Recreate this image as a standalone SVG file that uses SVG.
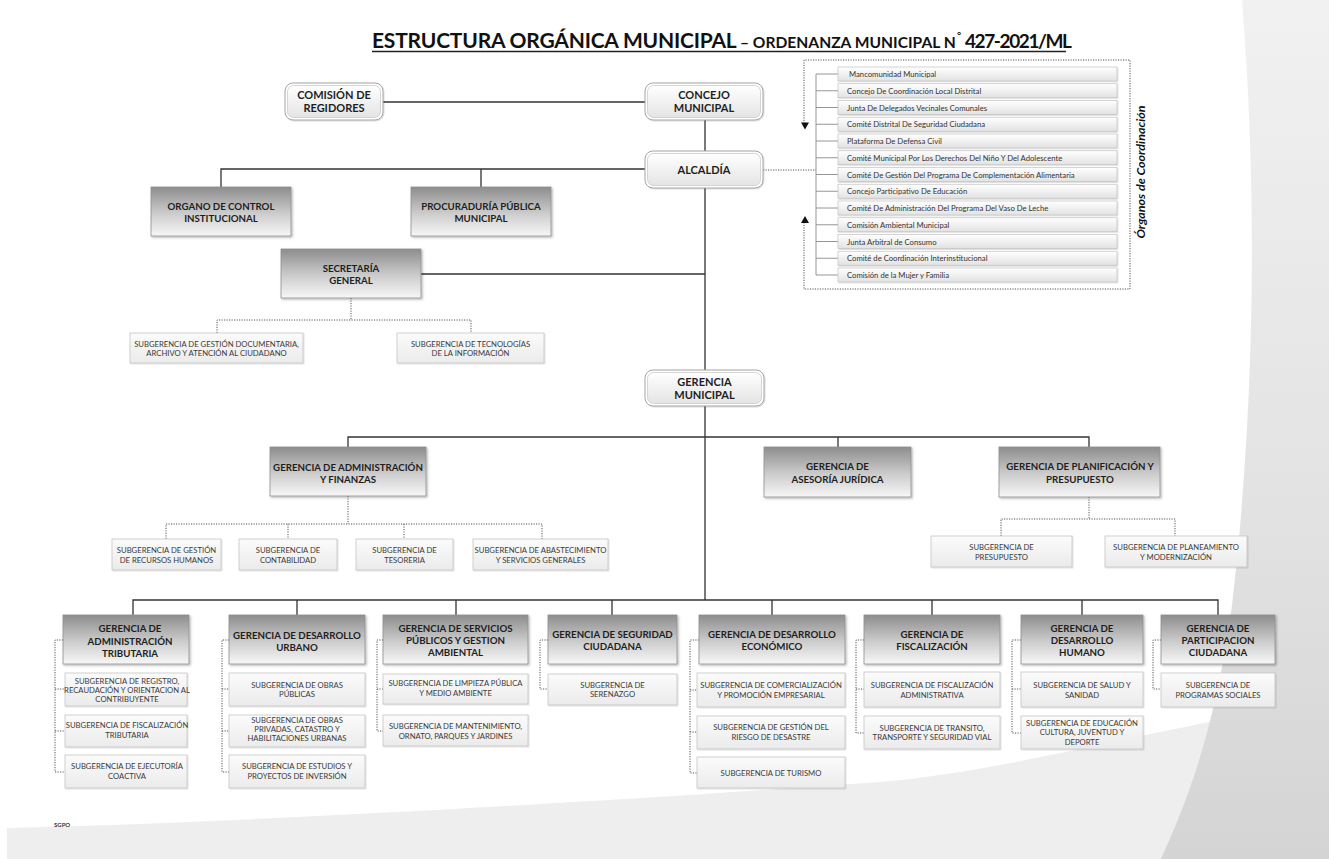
<svg xmlns="http://www.w3.org/2000/svg" width="1329" height="859" viewBox="0 0 1329 859">
<style>
text{font-family:Lato,"Liberation Sans",sans-serif}
.ln{stroke:#333;stroke-width:1.3;fill:none}
.dt{stroke:#555;stroke-width:1;fill:none;stroke-dasharray:1.2 1.3}
.br{stroke:#8a8a8a;stroke-width:0.9;fill:none}
.g{fill:url(#gG);stroke:#8f8f8f;stroke-width:0.8;filter:url(#sh)}
.s{fill:url(#gS);stroke:#c6c6c6;stroke-width:0.8;filter:url(#sh2)}
.ro{fill:#fff;stroke:#a4a4a4;stroke-width:1;filter:url(#sh2)}
.ri{fill:url(#gR);stroke:#cacaca;stroke-width:0.8}
.c{fill:url(#gC);stroke:#c2c2c2;stroke-width:0.7;filter:url(#sh2)}
.tg{font-weight:700;font-size:9.7px;text-anchor:middle;fill:#1e1e1e}
.tr{font-weight:700;font-size:11px;text-anchor:middle;fill:#1e1e1e}
.ts{font-size:7.7px;text-anchor:middle;fill:#3a3a3a}
.tc{font-size:7.7px;fill:#333}
</style>
<defs>
<linearGradient id="gG" x1="0" y1="0" x2="0" y2="1"><stop offset="0" stop-color="#8d8d8d"/><stop offset="0.55" stop-color="#cdcdcd"/><stop offset="1" stop-color="#f7f7f7"/></linearGradient>
<linearGradient id="gS" x1="0" y1="0" x2="0" y2="1"><stop offset="0" stop-color="#fbfbfb"/><stop offset="1" stop-color="#ebebeb"/></linearGradient>
<linearGradient id="gR" x1="0" y1="0" x2="0" y2="1"><stop offset="0" stop-color="#ffffff"/><stop offset="1" stop-color="#e4e4e4"/></linearGradient>
<linearGradient id="gC" x1="0" y1="0" x2="0" y2="1"><stop offset="0" stop-color="#ffffff"/><stop offset="1" stop-color="#e2e2e2"/></linearGradient>
<linearGradient id="gBg" x1="0" y1="0" x2="0" y2="1"><stop offset="0" stop-color="#f1f1f1"/><stop offset="0.6" stop-color="#e2e2e2"/><stop offset="1" stop-color="#d4d4d4"/></linearGradient>
<filter id="sh" x="-10%" y="-10%" width="125%" height="140%"><feDropShadow dx="1.2" dy="1.2" stdDeviation="0.8" flood-color="#000" flood-opacity="0.3"/></filter>
<filter id="sh2" x="-10%" y="-10%" width="125%" height="140%"><feDropShadow dx="0.8" dy="0.8" stdDeviation="0.6" flood-color="#000" flood-opacity="0.18"/></filter>
</defs>
<rect width="1329" height="859" fill="#fff"/>
<path d="M7,859 L7,828 C250,822 600,802 880,782 C1020,770 1150,727 1329,702 L1329,859 Z" fill="#eeeeee"/>
<path d="M1242,0 C1262,250 1248,470 1232,605 C1214,740 1182,812 1161,859 L1329,859 L1329,0 Z" fill="url(#gBg)"/>

<g id="title">
<text y="48" font-weight="700" fill="#111"><tspan x="372" font-size="21" letter-spacing="-0.2">ESTRUCTURA ORGÁNICA MUNICIPAL</tspan><tspan x="740" font-size="15.6">– ORDENANZA MUNICIPAL N</tspan><tspan x="957" dy="-9" font-size="10">°</tspan><tspan x="965" dy="9" font-size="19" letter-spacing="-1.4">427-2021/ML</tspan></text>
<line x1="372" y1="51.5" x2="1066" y2="51.5" stroke="#222" stroke-width="1.4"/>
</g>

<g id="connectors">
<path class="ln" d="M383,102 H645 M705,120 V151 M705,188 V370 M705,406 V600 M221,187 V169 H645 M481,169 V187 M421,274 H705 M348,447 V437 H1089 V447 M838,437 V447 M133,615 V600 H1218 V615 M297,600 V615 M456,600 V615 M612,600 V615 M772,600 V615 M932,600 V615 M1082,600 V615"/>
<path class="dt" d="M763,170 H816 M351,298 V320 M217,333 V320 H471 V333 M348,496 V524 M166,539 V524 H542 V539 M288,524 V539 M404,524 V539 M1089,497 V519 M1001,536 V519 H1175 V536"/>
<path class="dt" d="M63,640 H55 V772 H65 M55,689 H65 M55,731 H65 M229,640 H222 V772 H229 M222,689 H229 M222,731 H229 M383,640 H377 V731 H383 M377,689 H383 M548,640 H540 V689 H548 M699,640 H690 V773 H697 M690,690 H697 M690,732 H697 M864,640 H856 V733 H864 M856,689 H864 M1021,640 H1012 V733 H1021 M1012,689 H1021 M1161,640 H1153 V689 H1161"/>
<path class="dt" d="M804,126 V60 H1130 V289 H804 V219"/>
<polygon points="801,122.5 809,122.5 805,129.5" fill="#111"/>
<polygon points="801,223 809,223 805,216" fill="#111"/>
<path class="br" d="M816,74 V275 M816,74 H838 M816,90.75 H838 M816,107.5 H838 M816,124.25 H838 M816,141 H838 M816,157.75 H838 M816,174.5 H838 M816,191.25 H838 M816,208 H838 M816,224.75 H838 M816,241.5 H838 M816,258.25 H838 M816,275 H838"/>
</g>

<g id="comision-regidores"><rect class="ro" x="285" y="83" width="98" height="37" rx="8"/><rect class="ri" x="287.5" y="85.5" width="93" height="32" rx="6"/><text class="tr"><tspan x="334" y="98.5">COMISIÓN DE</tspan><tspan x="334" y="111.5">REGIDORES</tspan></text></g>
<g id="concejo-municipal"><rect class="ro" x="645" y="83" width="118" height="37" rx="8"/><rect class="ri" x="647.5" y="85.5" width="113" height="32" rx="6"/><text class="tr"><tspan x="704" y="98.5">CONCEJO</tspan><tspan x="704" y="111.5">MUNICIPAL</tspan></text></g>
<g id="alcaldia"><rect class="ro" x="645" y="151" width="118" height="37" rx="8"/><rect class="ri" x="647.5" y="153.5" width="113" height="32" rx="6"/><text class="tr" x="704" y="173.5">ALCALDÍA</text></g>
<g id="gerencia-municipal"><rect class="ro" x="645" y="370" width="119" height="36" rx="8"/><rect class="ri" x="647.5" y="372.5" width="114" height="31" rx="6"/><text class="tr"><tspan x="704.5" y="386">GERENCIA</tspan><tspan x="704.5" y="398.5">MUNICIPAL</tspan></text></g>

<g id="organo-control"><rect class="g" x="151" y="187" width="140" height="49"/><text class="tg"><tspan x="221" y="209.5">ORGANO DE CONTROL</tspan><tspan x="221" y="221.5">INSTITUCIONAL</tspan></text></g>
<g id="procuraduria"><rect class="g" x="411" y="187" width="140" height="49"/><text class="tg"><tspan x="481" y="209.5">PROCURADURÍA PÚBLICA</tspan><tspan x="481" y="221.5">MUNICIPAL</tspan></text></g>
<g id="secretaria-general"><rect class="g" x="281" y="249" width="140" height="49"/><text class="tg"><tspan x="351" y="271.5">SECRETARÍA</tspan><tspan x="351" y="283.5">GENERAL</tspan></text></g>
<g id="sg-gestion-documentaria"><rect class="s" x="130" y="333" width="173" height="30"/><text class="ts"><tspan x="216.5" y="346.5">SUBGERENCIA DE GESTIÓN DOCUMENTARIA,</tspan><tspan x="216.5" y="355.5">ARCHIVO Y ATENCIÓN AL CIUDADANO</tspan></text></g>
<g id="sg-tecnologias"><rect class="s" x="397" y="333" width="147" height="30"/><text class="ts"><tspan x="470.5" y="346.5">SUBGERENCIA DE TECNOLOGÍAS</tspan><tspan x="470.5" y="355.5">DE LA INFORMACIÓN</tspan></text></g>

<g id="ger-admin-finanzas"><rect class="g" x="270" y="447" width="156" height="49"/><text class="tg"><tspan x="348" y="470.5">GERENCIA DE ADMINISTRACIÓN</tspan><tspan x="348" y="482.5">Y FINANZAS</tspan></text></g>
<g id="ger-asesoria"><rect class="g" x="764" y="447" width="147" height="50"/><text class="tg"><tspan x="837.5" y="470">GERENCIA DE</tspan><tspan x="837.5" y="482.5">ASESORÍA JURÍDICA</tspan></text></g>
<g id="ger-planificacion"><rect class="g" x="999" y="447" width="161" height="50"/><text class="tg"><tspan x="1080" y="470">GERENCIA DE PLANIFICACIÓN Y</tspan><tspan x="1080" y="482.5">PRESUPUESTO</tspan></text></g>
<g id="sg-rrhh"><rect class="s" x="112" y="539" width="109" height="31"/><text class="ts"><tspan x="166.5" y="552.5">SUBGERENCIA DE GESTIÓN</tspan><tspan x="166.5" y="562.5">DE RECURSOS HUMANOS</tspan></text></g>
<g id="sg-contabilidad"><rect class="s" x="239" y="539" width="98" height="31"/><text class="ts"><tspan x="288" y="552.5">SUBGERENCIA DE</tspan><tspan x="288" y="562.5">CONTABILIDAD</tspan></text></g>
<g id="sg-tesoreria"><rect class="s" x="356" y="539" width="97" height="31"/><text class="ts"><tspan x="404.5" y="552.5">SUBGERENCIA DE</tspan><tspan x="404.5" y="562.5">TESORERIA</tspan></text></g>
<g id="sg-abastecimiento"><rect class="s" x="473" y="539" width="135" height="31"/><text class="ts"><tspan x="540.5" y="552.5">SUBGERENCIA DE ABASTECIMIENTO</tspan><tspan x="540.5" y="562.5">Y SERVICIOS GENERALES</tspan></text></g>
<g id="sg-presupuesto"><rect class="s" x="931" y="536" width="141" height="31"/><text class="ts"><tspan x="1001.5" y="549.5">SUBGERENCIA DE</tspan><tspan x="1001.5" y="559.5">PRESUPUESTO</tspan></text></g>
<g id="sg-planeamiento"><rect class="s" x="1105" y="536" width="142" height="31"/><text class="ts"><tspan x="1176" y="549.5">SUBGERENCIA DE PLANEAMIENTO</tspan><tspan x="1176" y="559.5">Y MODERNIZACIÓN</tspan></text></g>

<g id="ger-adm-tributaria"><rect class="g" x="63" y="615" width="126" height="49"/><text class="tg"><tspan x="130" y="632">GERENCIA DE</tspan><tspan x="130" y="644.5">ADMINISTRACIÓN</tspan><tspan x="130" y="657">TRIBUTARIA</tspan></text></g>
<g id="sg-registro"><rect class="s" x="65" y="673" width="122" height="33"/><text class="ts" font-size="6.8"><tspan x="127" y="683.5">SUBGERENCIA DE REGISTRO,</tspan><tspan x="127" y="692.5">RECAUDACIÓN Y ORIENTACION AL</tspan><tspan x="127" y="701.5">CONTRIBUYENTE</tspan></text></g>
<g id="sg-fisc-tributaria"><rect class="s" x="65" y="715" width="122" height="32"/><text class="ts" font-size="6.8"><tspan x="127" y="727.5">SUBGERENCIA DE FISCALIZACIÓN</tspan><tspan x="127" y="737.5">TRIBUTARIA</tspan></text></g>
<g id="sg-ejecutoria"><rect class="s" x="65" y="755" width="122" height="33"/><text class="ts" font-size="6.8"><tspan x="127" y="768.5">SUBGERENCIA DE EJECUTORÍA</tspan><tspan x="127" y="778.5">COACTIVA</tspan></text></g>

<g id="ger-desarrollo-urbano"><rect class="g" x="229" y="615" width="136" height="49"/><text class="tg"><tspan x="297" y="638.5">GERENCIA DE DESARROLLO</tspan><tspan x="297" y="650.5">URBANO</tspan></text></g>
<g id="sg-obras-publicas"><rect class="s" x="229" y="673" width="136" height="33"/><text class="ts"><tspan x="297" y="687.5">SUBGERENCIA DE OBRAS</tspan><tspan x="297" y="696.5">PÚBLICAS</tspan></text></g>
<g id="sg-obras-privadas"><rect class="s" x="229" y="715" width="136" height="32"/><text class="ts"><tspan x="297" y="722.5">SUBGERENCIA DE OBRAS</tspan><tspan x="297" y="731.5">PRIVADAS, CATASTRO Y</tspan><tspan x="297" y="740.5">HABILITACIONES URBANAS</tspan></text></g>
<g id="sg-estudios"><rect class="s" x="229" y="755" width="136" height="33"/><text class="ts"><tspan x="297" y="768.5">SUBGERENCIA DE ESTUDIOS Y</tspan><tspan x="297" y="778.5">PROYECTOS DE INVERSIÓN</tspan></text></g>

<g id="ger-servicios-publicos"><rect class="g" x="383" y="615" width="145" height="49"/><text class="tg"><tspan x="455.5" y="631.5">GERENCIA DE SERVICIOS</tspan><tspan x="455.5" y="643.5">PÚBLICOS Y GESTION</tspan><tspan x="455.5" y="655.5">AMBIENTAL</tspan></text></g>
<g id="sg-limpieza"><rect class="s" x="383" y="674" width="145" height="30"/><text class="ts"><tspan x="455.5" y="685.5">SUBGERENCIA DE LIMPIEZA PÚBLICA</tspan><tspan x="455.5" y="695.5">Y MEDIO AMBIENTE</tspan></text></g>
<g id="sg-mantenimiento"><rect class="s" x="383" y="715" width="145" height="31"/><text class="ts"><tspan x="455.5" y="728.5">SUBGERENCIA DE MANTENIMIENTO,</tspan><tspan x="455.5" y="738.5">ORNATO, PARQUES Y JARDINES</tspan></text></g>

<g id="ger-seguridad"><rect class="g" x="548" y="615" width="129" height="49"/><text class="tg"><tspan x="612.5" y="637.5">GERENCIA DE SEGURIDAD</tspan><tspan x="612.5" y="650">CIUDADANA</tspan></text></g>
<g id="sg-serenazgo"><rect class="s" x="548" y="674" width="129" height="31"/><text class="ts"><tspan x="612.5" y="687.5">SUBGERENCIA DE</tspan><tspan x="612.5" y="696.5">SERENAZGO</tspan></text></g>

<g id="ger-desarrollo-economico"><rect class="g" x="699" y="615" width="146" height="49"/><text class="tg"><tspan x="772" y="637.5">GERENCIA DE DESARROLLO</tspan><tspan x="772" y="650">ECONÓMICO</tspan></text></g>
<g id="sg-comercializacion"><rect class="s" x="697" y="673" width="148" height="34"/><text class="ts"><tspan x="771" y="687.5">SUBGERENCIA DE COMERCIALIZACIÓN</tspan><tspan x="771" y="697.5">Y PROMOCIÓN EMPRESARIAL</tspan></text></g>
<g id="sg-riesgo"><rect class="s" x="697" y="716" width="148" height="33"/><text class="ts"><tspan x="771" y="729.5">SUBGERENCIA DE GESTIÓN DEL</tspan><tspan x="771" y="739.5">RIESGO DE DESASTRE</tspan></text></g>
<g id="sg-turismo"><rect class="s" x="697" y="757" width="148" height="31"/><text class="ts" x="771" y="775.5">SUBGERENCIA DE TURISMO</text></g>

<g id="ger-fiscalizacion"><rect class="g" x="864" y="615" width="136" height="49"/><text class="tg"><tspan x="932" y="637.5">GERENCIA DE</tspan><tspan x="932" y="649.5">FISCALIZACIÓN</tspan></text></g>
<g id="sg-fisc-administrativa"><rect class="s" x="864" y="672" width="136" height="35"/><text class="ts"><tspan x="932" y="687.5">SUBGERENCIA DE FISCALIZACIÓN</tspan><tspan x="932" y="697.5">ADMINISTRATIVA</tspan></text></g>
<g id="sg-transito"><rect class="s" x="864" y="716" width="136" height="33"/><text class="ts"><tspan x="932" y="730.5">SUBGERENCIA DE TRANSITO,</tspan><tspan x="932" y="740">TRANSPORTE Y SEGURIDAD VIAL</tspan></text></g>

<g id="ger-desarrollo-humano"><rect class="g" x="1021" y="615" width="122" height="49"/><text class="tg"><tspan x="1082" y="631.5">GERENCIA DE</tspan><tspan x="1082" y="643.5">DESARROLLO</tspan><tspan x="1082" y="655.5">HUMANO</tspan></text></g>
<g id="sg-salud"><rect class="s" x="1021" y="672" width="122" height="35"/><text class="ts"><tspan x="1082" y="687.5">SUBGERENCIA DE SALUD Y</tspan><tspan x="1082" y="697.5">SANIDAD</tspan></text></g>
<g id="sg-educacion"><rect class="s" x="1021" y="716" width="122" height="33"/><text class="ts"><tspan x="1082" y="725.5">SUBGERENCIA DE EDUCACIÓN</tspan><tspan x="1082" y="735">CULTURA, JUVENTUD Y</tspan><tspan x="1082" y="744.5">DEPORTE</tspan></text></g>

<g id="ger-participacion"><rect class="g" x="1161" y="615" width="114" height="49"/><text class="tg"><tspan x="1218" y="631.5">GERENCIA DE</tspan><tspan x="1218" y="643.5">PARTICIPACION</tspan><tspan x="1218" y="655.5">CIUDADANA</tspan></text></g>
<g id="sg-programas-sociales"><rect class="s" x="1161" y="673" width="114" height="34"/><text class="ts"><tspan x="1218" y="687.5">SUBGERENCIA DE</tspan><tspan x="1218" y="697.5">PROGRAMAS SOCIALES</tspan></text></g>

<g id="organos-coordinacion">
<rect class="c" x="838" y="67" width="279" height="14"/><text class="tc" x="849" y="77">Mancomunidad Municipal</text>
<rect class="c" x="838" y="83.75" width="279" height="14"/><text class="tc" x="847" y="93.75">Concejo De Coordinación Local Distrital</text>
<rect class="c" x="838" y="100.5" width="279" height="14"/><text class="tc" x="847" y="110.5">Junta De Delegados Vecinales Comunales</text>
<rect class="c" x="838" y="117.25" width="279" height="14"/><text class="tc" x="847" y="127.25">Comité Distrital De Seguridad Ciudadana</text>
<rect class="c" x="838" y="134" width="279" height="14"/><text class="tc" x="847" y="144">Plataforma De Defensa Civil</text>
<rect class="c" x="838" y="150.75" width="279" height="14"/><text class="tc" x="847" y="160.75">Comité Municipal Por Los Derechos Del Niño Y Del Adolescente</text>
<rect class="c" x="838" y="167.5" width="279" height="14"/><text class="tc" x="847" y="177.5">Comité De Gestión Del Programa De Complementación Alimentaria</text>
<rect class="c" x="838" y="184.25" width="279" height="14"/><text class="tc" x="847" y="194.25">Concejo Participativo De Educación</text>
<rect class="c" x="838" y="201" width="279" height="14"/><text class="tc" x="847" y="211">Comité De Administración Del Programa Del Vaso De Leche</text>
<rect class="c" x="838" y="217.75" width="279" height="14"/><text class="tc" x="847" y="227.75">Comisión Ambiental Municipal</text>
<rect class="c" x="838" y="234.5" width="279" height="14"/><text class="tc" x="847" y="244.5">Junta Arbitral de Consumo</text>
<rect class="c" x="838" y="251.25" width="279" height="14"/><text class="tc" x="847" y="261.25">Comité de Coordinación Interinstitucional</text>
<rect class="c" x="838" y="268" width="279" height="14"/><text class="tc" x="847" y="278">Comisión de la Mujer y Familia</text>
<text x="1145" y="172" transform="rotate(-90 1145 172)" text-anchor="middle" font-size="12" font-weight="700" font-style="italic" fill="#111" textLength="133" lengthAdjust="spacingAndGlyphs">Órganos de Coordinación</text>
</g>

<text x="54" y="827" font-size="6" font-weight="700" fill="#333">SGPO</text>
</svg>
